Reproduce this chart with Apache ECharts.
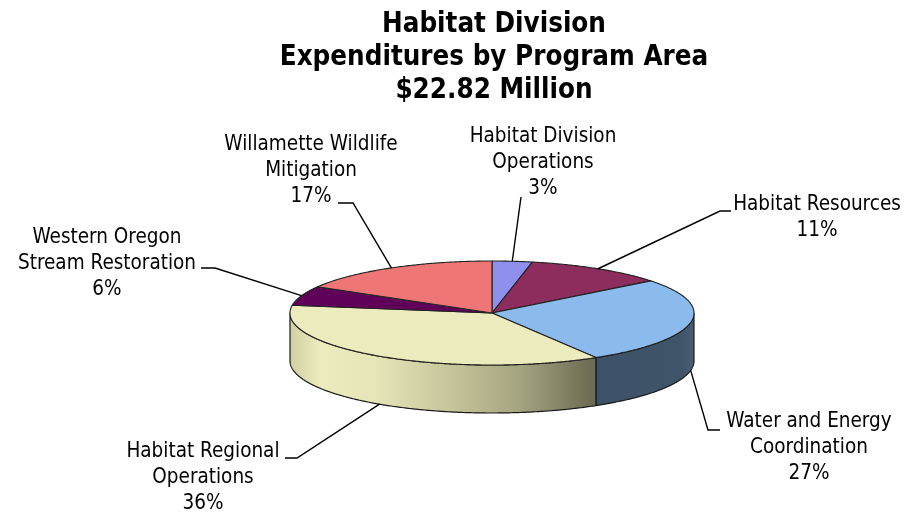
<!DOCTYPE html>
<html>
<head>
<meta charset="utf-8">
<style>html,body{margin:0;padding:0;background:#fff}#c{width:913px;height:512px}</style>
<script src="https://cdn.jsdelivr.net/npm/echarts@6/dist/echarts.min.js"></script>
</head>
<body>
<div id="c"></div>
<script>
// Data
const categories = ['Habitat Division\nOperations','Habitat Resources','Water and Energy\nCoordination','Habitat Regional\nOperations','Western Oregon\nStream Restoration','Willamette Wildlife\nMitigation'];
const values = [3.2, 11.2, 27.0, 36.0, 6.0, 16.6];
const titleText = 'Habitat Division\nExpenditures by Program Area\n$22.82 Million';
// Styles
const topColors = ['#8f8fee','#8c2d5e','#8bbbec','#ecebbd','#5f0059','#ee7676'];
const FONT = '"DejaVu Sans Condensed","DejaVu Sans",sans-serif';
// Layout
const CX = 492, CY = 313, RX = 202, RY = 52, DEPTH = 48;
const labelCenters = [[543,163],[817,218],[809,448],[203,478],[107,264],[311,171]];
const leaderElbows = [[[521,197]],[[720,211],[731,211]],[[708,430],[720,430]],[[297,458],[285,458]],[[215,268],[201,268]],[[353,203],[338,203]]];

const total = values.reduce((a,b)=>a+b,0);
const starts = []; let acc = 0;
values.forEach(v=>{starts.push(acc/total*360); acc+=v;});
const rad = d=>d*Math.PI/180;
const rim = (deg,dy=0)=>[CX+RX*Math.sin(rad(deg)), CY-RY*Math.cos(rad(deg))+dy];
function arc(a,b,dy=0){
  const pts=[]; const n=Math.max(2,Math.ceil((b-a)*2));
  for(let i=0;i<=n;i++) pts.push(rim(a+(b-a)*i/n,dy));
  return pts;
}
const wallFill = [null,null,
  {type:'linear',x:0,y:0,x2:1,y2:0,colorStops:[{offset:0,color:'#3d5168'},{offset:0.85,color:'#3f5369'},{offset:1,color:'#4b5e72'}]},
  {type:'linear',x:0,y:0,x2:1,y2:0,colorStops:[{offset:0,color:'#cfcfa3'},{offset:0.1,color:'#ecebbd'},{offset:0.28,color:'#e6e5b8'},{offset:0.5,color:'#c9c89e'},{offset:0.75,color:'#a5a481'},{offset:0.95,color:'#757459'},{offset:1,color:'#6a6952'}]},
  null,null];

const option = {
  animation:false,
  backgroundColor:'#fff',
  title:{text:titleText,left:489,top:3,textAlign:'center',
    textStyle:{fontFamily:FONT,fontWeight:'bold',fontSize:27.5,lineHeight:33,color:'#000'}},
  xAxis:{show:false},yAxis:{show:false},
  series:[
   {type:'custom',coordinateSystem:'none',silent:true,z:2,data:values.map((v,i)=>[v,i]),
    renderItem(p,api){
      const i=api.value(1), a0=starts[i], a1=a0+api.value(0)/total*360;
      const s=Math.max(a0,90), e=Math.min(a1,270);
      if(e<=s) return {type:'group',children:[]};
      const pts=arc(s,e,0).concat(arc(s,e,DEPTH).reverse());
      return {type:'polygon',shape:{points:pts},style:{fill:wallFill[i],stroke:'#1a1a1a',lineWidth:1.2}};
    }},
   {type:'custom',coordinateSystem:'none',silent:true,z:3,data:values.map((v,i)=>[v,i]),
    renderItem(p,api){
      const i=api.value(1), a0=starts[i], a1=a0+api.value(0)/total*360;
      const pts=[[CX,CY]].concat(arc(a0,a1));
      return {type:'polygon',shape:{points:pts},style:{fill:topColors[i],stroke:'#222',lineWidth:1.1,lineJoin:'round'}};
    }},
   {type:'custom',coordinateSystem:'none',silent:true,z:4,data:values.map((v,i)=>[v,i]),
    renderItem(p,api){
      const i=api.value(1), v=api.value(0);
      const mid=starts[i]+v/total*180;
      const front=mid>90&&mid<270;
      const start=rim(mid,front?DEPTH:0);
      const [x,y]=labelCenters[i];
      return {type:'group',children:[
        {type:'polyline',shape:{points:[start].concat(leaderElbows[i])},style:{fill:null,stroke:'#000',lineWidth:1.4}},
        {type:'text',x,y,style:{text:categories[i]+'\n'+Math.round(v)+'%',fontFamily:FONT,fontSize:20.5,lineHeight:26,align:'center',verticalAlign:'middle',fill:'#000'}}
      ]};
    }}
  ]
};
echarts.init(document.getElementById('c'),null,{renderer:'canvas'}).setOption(option);
</script>
</body>
</html>
